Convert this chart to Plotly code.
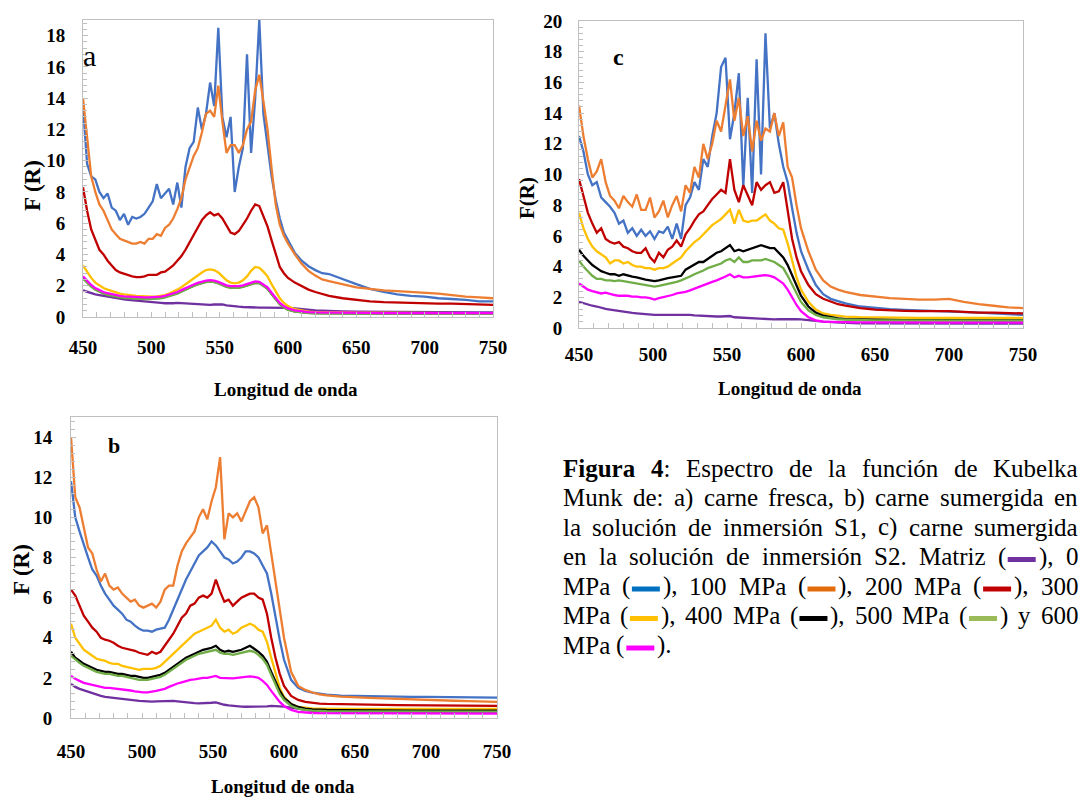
import re
import plotly.graph_objects as go

# ---------------- DATA ----------------
wl = [450, 453, 456, 459, 462, 465, 468, 471, 474, 477, 480, 483, 486, 489, 492, 495, 498,
      501, 504, 507, 510, 513, 516, 519, 522, 525, 528, 531, 534, 537, 540, 543, 546, 549,
      552, 555, 558, 561, 564, 567, 570, 573, 576, 579, 582, 585, 588, 591, 594, 597, 600,
      605, 610, 615, 620, 625, 630, 640, 650, 660, 670, 680, 690, 700, 710, 720, 730, 740, 750]

series_names = ["Matriz", "0 MPa", "100 MPa", "200 MPa", "300 MPa", "400 MPa", "500 MPa", "600 MPa"]

# panel a : carne fresca
a_matriz = [1.70,1.60,1.50,1.45,1.40,1.35,1.30,1.25,1.20,1.17,1.13,1.10,1.07,1.03,1.00,0.98,0.95,0.92,0.90,0.90,
            0.88,0.87,0.88,0.90,0.88,0.87,0.85,0.85,0.83,0.80,0.78,0.78,0.80,0.82,0.80,0.74,0.70,0.68,0.66,0.64,
            0.62,0.60,0.60,0.60,0.60,0.60,0.60,0.60,0.60,0.60,0.58,
            0.55,0.50,0.45,0.42,0.40,0.38,0.36,0.35,0.34,0.33,0.33,0.32,0.32,0.31,0.31,0.30,0.30,0.30]
a_0 = [13.5,9.8,9.0,8.8,8.0,7.6,7.9,7.0,6.8,6.2,6.6,5.9,6.4,6.3,6.4,6.6,7.0,7.4,8.5,7.6,
       7.9,8.2,7.2,8.6,7.0,9.6,10.8,11.2,13.4,12.0,13.0,15.0,13.5,18.5,12.8,11.5,12.8,8.0,9.6,10.8,
       16.8,10.5,14.0,19.0,13.0,11.0,9.0,7.5,6.3,5.4,4.9,
       4.1,3.6,3.25,3.0,2.8,2.75,2.4,2.1,1.8,1.6,1.45,1.35,1.3,1.2,1.15,1.1,1.0,1.0]
a_100 = [14.0,11.5,9.0,8.0,7.2,6.8,6.2,5.6,5.3,5.0,4.9,4.8,4.7,4.7,4.8,4.7,5.0,5.0,5.3,5.2,
         5.7,5.9,6.3,6.9,7.6,8.8,9.6,10.3,10.8,11.8,13.0,13.2,12.8,14.8,12.5,10.5,11.0,11.0,10.5,11.0,
         12.0,12.5,14.5,15.5,13.8,12.0,9.5,7.2,5.9,5.2,4.7,
         4.0,3.4,2.95,2.65,2.4,2.3,2.1,1.9,1.8,1.7,1.65,1.6,1.55,1.5,1.4,1.3,1.25,1.2]
a_200 = [8.3,6.8,5.6,4.9,4.3,4.0,3.6,3.3,3.0,2.85,2.75,2.65,2.6,2.55,2.55,2.6,2.7,2.7,2.7,2.85,
         2.9,3.1,3.3,3.6,3.9,4.3,4.8,5.3,5.8,6.2,6.5,6.7,6.5,6.6,6.3,5.8,5.4,5.3,5.5,5.9,
         6.3,6.8,7.2,7.1,6.5,5.8,4.9,4.0,3.2,2.8,2.5,
         2.2,1.95,1.75,1.6,1.45,1.35,1.2,1.1,1.0,0.95,0.92,0.9,0.88,0.86,0.85,0.83,0.8,0.78]
a_300 = [3.3,2.9,2.5,2.2,2.0,1.85,1.75,1.65,1.55,1.5,1.45,1.4,1.38,1.35,1.33,1.32,1.3,1.3,1.32,1.35,
         1.4,1.5,1.6,1.75,1.9,2.1,2.3,2.5,2.7,2.85,3.0,3.05,3.0,2.85,2.6,2.35,2.2,2.15,2.2,2.35,
         2.6,2.95,3.2,3.15,2.9,2.6,2.1,1.6,1.2,0.9,0.7,
         0.5,0.4,0.34,0.31,0.3,0.29,0.29,0.28,0.28,0.27,0.27,0.27,0.26,0.26,0.26,0.25,0.25,0.25]
a_400 = [2.5,2.22,1.98,1.78,1.63,1.53,1.45,1.38,1.33,1.28,1.25,1.23,1.21,1.2,1.19,1.18,1.18,1.19,1.21,1.23,
         1.28,1.35,1.43,1.53,1.65,1.78,1.9,2.01,2.11,2.2,2.26,2.29,2.26,2.18,2.05,1.95,1.9,1.88,1.9,1.95,
         2.03,2.13,2.2,2.18,2.03,1.82,1.47,1.12,0.83,0.63,0.48,
         0.36,0.3,0.27,0.25,0.24,0.24,0.23,0.23,0.23,0.22,0.22,0.22,0.22,0.22,0.22,0.22,0.22,0.22]
a_500 = [2.45,2.18,1.95,1.75,1.6,1.5,1.42,1.35,1.3,1.25,1.22,1.2,1.18,1.17,1.16,1.15,1.15,1.16,1.18,1.2,
         1.25,1.32,1.4,1.5,1.62,1.75,1.87,1.98,2.08,2.17,2.23,2.26,2.23,2.15,2.02,1.92,1.87,1.85,1.87,1.92,
         2.0,2.1,2.17,2.15,2.0,1.8,1.45,1.1,0.8,0.6,0.46,
         0.34,0.28,0.25,0.23,0.22,0.22,0.21,0.21,0.21,0.2,0.2,0.2,0.2,0.2,0.2,0.2,0.2,0.2]
a_600 = [2.6,2.3,2.05,1.85,1.7,1.6,1.52,1.45,1.4,1.35,1.32,1.3,1.28,1.27,1.26,1.25,1.25,1.26,1.28,1.3,
         1.35,1.42,1.5,1.6,1.72,1.85,1.97,2.08,2.18,2.27,2.33,2.36,2.33,2.25,2.12,2.02,1.97,1.95,1.97,2.02,
         2.1,2.2,2.28,2.25,2.1,1.9,1.55,1.2,0.9,0.7,0.55,
         0.42,0.35,0.31,0.29,0.28,0.27,0.26,0.26,0.26,0.25,0.25,0.25,0.25,0.25,0.25,0.25,0.25,0.25]

# panel b : carne sumergida en S1
b_matriz = [1.7,1.55,1.45,1.38,1.3,1.22,1.15,1.1,1.05,1.03,1.0,0.98,0.97,0.93,0.9,0.88,0.85,0.83,0.82,0.82,
            0.83,0.84,0.85,0.85,0.85,0.83,0.8,0.78,0.76,0.74,0.73,0.73,0.74,0.76,0.78,0.7,0.66,0.63,0.6,0.58,
            0.57,0.56,0.56,0.56,0.56,0.57,0.58,0.6,0.6,0.59,0.57,
            0.52,0.45,0.4,0.36,0.34,0.33,0.32,0.31,0.31,0.3,0.3,0.3,0.3,0.3,0.3,0.3,0.3,0.3]
b_0 = [11.8,10.0,9.3,8.6,8.0,7.4,7.1,6.6,6.2,5.9,5.6,5.4,5.2,4.9,4.8,4.6,4.45,4.35,4.35,4.3,
       4.4,4.45,4.5,4.9,5.4,5.9,6.4,6.9,7.3,7.7,8.1,8.3,8.5,8.8,8.6,8.3,8.0,7.9,7.7,7.8,
       8.0,8.3,8.3,8.2,8.0,7.6,7.2,6.2,5.0,3.9,2.9,
       1.9,1.5,1.35,1.27,1.2,1.16,1.12,1.1,1.08,1.07,1.06,1.05,1.05,1.05,1.04,1.03,1.02,1.02]
b_100 = [14.0,11.0,10.5,9.5,8.5,8.2,7.4,6.8,7.2,6.6,6.4,6.5,6.2,6.0,5.8,5.9,5.6,5.5,5.6,5.7,
         5.5,5.8,6.4,6.6,6.6,7.6,8.3,8.7,9.0,9.3,10.0,10.4,9.9,10.8,11.5,13.0,8.9,10.2,10.0,10.2,
         9.8,10.3,10.8,11.0,10.5,9.2,9.6,8.2,6.8,5.3,4.0,
         2.3,1.6,1.4,1.27,1.18,1.13,1.07,1.02,1.0,0.98,0.95,0.92,0.9,0.88,0.86,0.84,0.82,0.8]
b_200 = [6.4,6.1,5.6,5.1,4.8,4.5,4.3,4.0,3.9,3.85,3.75,3.6,3.5,3.45,3.4,3.35,3.25,3.2,3.15,3.3,
         3.2,3.3,3.6,3.9,4.2,4.6,5.0,5.2,5.6,5.7,6.0,6.1,6.0,6.2,6.9,6.3,5.8,5.9,5.6,5.8,
         6.0,6.1,6.2,6.2,6.0,5.9,5.2,4.0,3.0,2.2,1.6,
         1.1,0.9,0.8,0.75,0.72,0.7,0.68,0.67,0.66,0.65,0.64,0.63,0.63,0.62,0.62,0.61,0.6,0.6]
b_300 = [4.7,4.0,3.7,3.4,3.25,3.1,2.95,2.9,2.85,2.75,2.7,2.7,2.6,2.55,2.5,2.45,2.4,2.45,2.45,2.45,
         2.5,2.6,2.8,3.0,3.2,3.4,3.6,3.8,4.0,4.2,4.3,4.4,4.5,4.6,4.9,4.5,4.3,4.4,4.2,4.3,
         4.5,4.6,4.7,4.6,4.4,4.3,3.8,3.0,2.2,1.5,1.05,
         0.7,0.55,0.5,0.48,0.47,0.46,0.46,0.45,0.45,0.45,0.45,0.45,0.45,0.45,0.45,0.45,0.45,0.45]
b_400 = [3.3,3.0,2.85,2.7,2.6,2.5,2.4,2.35,2.3,2.3,2.25,2.2,2.2,2.15,2.1,2.1,2.05,2.0,2.0,2.05,
         2.1,2.15,2.25,2.4,2.55,2.7,2.85,3.0,3.1,3.2,3.3,3.4,3.45,3.5,3.6,3.4,3.3,3.35,3.3,3.35,
         3.4,3.5,3.6,3.45,3.3,3.1,2.8,2.3,1.8,1.35,1.0,
         0.7,0.55,0.47,0.43,0.41,0.4,0.39,0.38,0.38,0.38,0.37,0.37,0.37,0.37,0.37,0.37,0.37,0.37]
b_500 = [3.1,2.9,2.75,2.6,2.5,2.4,2.3,2.25,2.2,2.2,2.15,2.1,2.1,2.05,2.0,1.95,1.9,1.9,1.9,1.95,
         2.0,2.05,2.15,2.3,2.45,2.6,2.75,2.9,3.0,3.1,3.2,3.25,3.3,3.35,3.4,3.25,3.2,3.2,3.15,3.2,
         3.25,3.3,3.35,3.3,3.15,2.95,2.65,2.15,1.65,1.2,0.9,
         0.6,0.47,0.4,0.37,0.35,0.34,0.33,0.33,0.32,0.32,0.32,0.32,0.32,0.32,0.32,0.32,0.32,0.32]
b_600 = [2.1,1.95,1.85,1.75,1.7,1.65,1.6,1.55,1.5,1.5,1.48,1.45,1.42,1.4,1.37,1.33,1.3,1.28,1.28,1.3,
         1.35,1.4,1.45,1.55,1.65,1.72,1.78,1.85,1.9,1.93,1.97,2.0,2.0,2.05,2.1,2.0,1.98,1.97,1.97,2.0,
         2.03,2.05,2.07,2.05,2.0,1.85,1.65,1.35,1.05,0.8,0.6,
         0.4,0.3,0.26,0.25,0.24,0.24,0.23,0.23,0.23,0.23,0.22,0.22,0.22,0.22,0.22,0.22,0.22,0.22]

# panel c : carne sumergida en S2
c_matriz = [1.7,1.6,1.5,1.45,1.4,1.3,1.25,1.2,1.15,1.1,1.05,1.0,0.98,0.95,0.92,0.9,0.88,0.85,0.85,0.85,
            0.85,0.85,0.87,0.88,0.87,0.85,0.82,0.8,0.78,0.77,0.76,0.75,0.75,0.77,0.78,0.7,0.68,0.66,0.64,0.62,
            0.6,0.58,0.57,0.57,0.56,0.57,0.58,0.6,0.6,0.58,0.56,
            0.53,0.47,0.42,0.38,0.35,0.33,0.31,0.3,0.3,0.29,0.29,0.29,0.29,0.28,0.28,0.28,0.28,0.28]
c_0 = [12.5,11.5,10.0,9.3,9.5,8.5,8.2,7.9,7.5,6.8,7.0,6.2,6.5,6.0,6.4,6.0,6.3,5.8,6.3,6.2,
       6.6,5.8,6.8,5.8,8.0,8.5,9.5,9.0,11.0,10.5,12.5,14.0,17.0,17.6,12.3,14.0,16.6,9.2,15.0,8.8,
       17.5,10.0,19.2,13.0,14.0,12.0,10.5,9.5,7.8,6.2,5.0,
       3.8,2.8,2.2,1.9,1.75,1.6,1.4,1.3,1.22,1.18,1.15,1.12,1.1,1.05,1.0,0.95,0.9,0.85]
c_100 = [14.5,12.5,11.0,9.8,10.2,11.0,9.5,8.6,8.3,7.8,8.6,8.2,7.9,8.7,7.7,7.7,8.5,7.2,7.6,8.3,
         7.2,8.0,8.6,7.6,9.3,8.8,10.5,9.8,12.0,11.0,12.0,13.5,12.8,14.5,16.2,13.5,15.0,12.5,13.8,11.5,
         13.5,12.2,13.0,12.8,14.0,12.5,13.4,10.5,9.8,8.0,6.5,
         5.0,3.8,3.1,2.7,2.5,2.35,2.15,2.05,1.95,1.9,1.85,1.85,1.9,1.7,1.55,1.45,1.35,1.3]
c_200 = [9.7,8.5,7.5,6.8,6.2,6.5,5.8,5.6,5.5,5.6,5.3,5.2,5.0,4.9,4.9,5.2,4.6,4.3,4.9,4.6,
         5.1,5.3,5.7,5.3,6.1,6.5,7.0,7.4,7.6,8.0,8.4,8.7,9.0,8.8,11.0,9.0,8.2,9.3,8.6,8.0,
         9.5,9.0,9.3,9.5,8.8,8.9,9.5,7.5,5.8,4.6,3.7,
         2.8,2.2,1.9,1.7,1.55,1.45,1.3,1.2,1.15,1.12,1.1,1.1,1.1,1.05,1.0,1.0,0.98,0.95]
c_300 = [7.5,6.5,5.8,5.3,5.0,4.8,4.6,4.2,4.4,4.4,4.2,4.3,4.1,4.0,4.0,3.9,3.9,3.8,3.9,3.9,
         4.0,4.2,4.4,4.6,5.0,5.3,5.6,5.8,6.1,6.4,6.7,6.9,7.1,7.4,7.7,6.8,7.7,7.0,6.9,7.0,
         7.0,7.2,7.4,7.0,6.8,6.5,6.4,5.5,4.3,3.3,2.5,
         1.7,1.2,0.95,0.85,0.78,0.74,0.7,0.68,0.67,0.66,0.66,0.66,0.65,0.65,0.65,0.65,0.65,0.65]
c_400 = [5.1,4.7,4.4,4.1,3.9,3.7,3.6,3.5,3.5,3.4,3.5,3.4,3.35,3.3,3.2,3.15,3.1,3.05,3.1,3.2,
         3.25,3.3,3.35,3.4,3.8,3.95,4.1,4.3,4.3,4.5,4.7,4.9,5.0,5.2,5.4,5.0,5.1,5.0,5.1,5.2,
         5.3,5.4,5.3,5.2,5.2,4.9,4.6,4.1,3.4,2.7,2.1,
         1.4,1.0,0.8,0.7,0.62,0.58,0.55,0.53,0.52,0.51,0.51,0.5,0.5,0.5,0.5,0.5,0.5,0.5]
c_500 = [4.4,4.0,3.7,3.4,3.2,3.2,3.1,3.1,3.05,3.1,3.05,3.0,2.95,2.9,2.85,2.8,2.75,2.7,2.75,2.8,
         2.85,2.9,3.0,3.1,3.2,3.35,3.5,3.6,3.75,3.9,4.0,4.1,4.2,4.4,4.5,4.3,4.6,4.3,4.3,4.4,
         4.4,4.4,4.5,4.4,4.3,4.1,3.9,3.4,2.8,2.2,1.7,
         1.15,0.85,0.7,0.62,0.57,0.54,0.5,0.49,0.49,0.48,0.48,0.48,0.48,0.48,0.48,0.48,0.48,0.48]
c_600 = [2.9,2.7,2.5,2.4,2.3,2.25,2.3,2.2,2.15,2.1,2.1,2.1,2.05,2.05,2.0,2.0,1.95,1.85,1.95,2.0,
         2.05,2.15,2.25,2.3,2.35,2.45,2.55,2.65,2.8,2.9,3.0,3.1,3.2,3.35,3.5,3.3,3.4,3.3,3.3,3.35,
         3.4,3.45,3.45,3.4,3.3,3.1,2.9,2.5,2.0,1.5,1.1,
         0.7,0.5,0.42,0.4,0.38,0.37,0.36,0.36,0.35,0.35,0.35,0.35,0.35,0.35,0.35,0.35,0.35,0.35]

x_ticks = [450, 500, 550, 600, 650, 700, 750]

# ---------------- STYLE ----------------
PAGE_W, PAGE_H = 1089, 800
OFF = 8                      # default page margin of the html body
W, H = PAGE_W - OFF, PAGE_H - OFF
line_colors = ["#7030A0", "#4472C4", "#ED7D31", "#C00000", "#FFC000", "#000000", "#70AD47", "#FF00FF"]
AX_GRAY = "#BFBFBF"
SERIF = "Liberation Serif"


def X(p):
    return (p - OFF) / W


def Y(p):
    return 1 - (p - OFF) / H


fig = go.Figure()

panels = [
    dict(name="a", sfx="", data=[a_matriz, a_0, a_100, a_200, a_300, a_400, a_500, a_600],
         box=(83, 493, 20, 317), ymax=19, xstand=13, ystand=13),
    dict(name="c", sfx="2", data=[c_matriz, c_0, c_100, c_200, c_300, c_400, c_500, c_600],
         box=(579, 1023, 21, 328), ymax=20, xstand=9, ystand=12),
    dict(name="b", sfx="3", data=[b_matriz, b_0, b_100, b_200, b_300, b_400, b_500, b_600],
         box=(71, 497, 417, 718), ymax=15, xstand=16, ystand=14),
]

tickfont = dict(family=SERIF, size=19, color="black", weight="bold")
layout_axes = {}
for p in panels:
    for vals in p["data"]:
        assert len(vals) == len(wl), (p["name"], len(vals))
    for vals, col, nm in zip(p["data"], line_colors, series_names):
        fig.add_trace(go.Scatter(x=wl, y=vals, mode="lines", name=nm,
                                 line=dict(color=col, width=2.3),
                                 xaxis="x" + p["sfx"], yaxis="y" + p["sfx"],
                                 showlegend=False, hoverinfo="skip"))
    l, r, t, b = p["box"]
    layout_axes["xaxis" + p["sfx"]] = dict(
        domain=[X(l), X(r)], range=[450, 750], anchor="y" + p["sfx"], automargin=False,
        tickvals=x_ticks, showline=True, mirror=True, linecolor=AX_GRAY, linewidth=1,
        ticks="inside", ticklen=5, tickcolor=AX_GRAY,
        minor=dict(dtick=10, ticks="inside", ticklen=5, tickcolor=AX_GRAY, showgrid=False),
        showgrid=False, zeroline=False, tickfont=tickfont, ticklabelstandoff=p["xstand"],
        fixedrange=True)
    layout_axes["yaxis" + p["sfx"]] = dict(
        domain=[Y(b), Y(t)], range=[0, p["ymax"]], anchor="x" + p["sfx"], automargin=False,
        dtick=2, tick0=0, showline=True, mirror=True, linecolor=AX_GRAY, linewidth=1,
        ticks="inside", ticklen=5, tickcolor=AX_GRAY,
        minor=dict(dtick=0.4, ticks="inside", ticklen=4, tickcolor=AX_GRAY, showgrid=False),
        showgrid=False, zeroline=False, tickfont=tickfont, ticklabelstandoff=p["ystand"],
        fixedrange=True)

annotations = []


def add_text(txt, x, y, size, bold=True, angle=0, xanchor="center", family=SERIF):
    annotations.append(dict(text=txt, x=X(x), y=Y(y), xref="paper", yref="paper",
                            xanchor=xanchor, yanchor="middle", showarrow=False, textangle=angle,
                            borderpad=0,
                            font=dict(family=family, size=size, color="black",
                                      weight="bold" if bold else "normal")))


# axis titles and panel letters
add_text("Longitud de onda", 286, 389, 19)
add_text("F (R)", 33, 186, 23, angle=-90)
add_text("a", 89, 56, 30, bold=False)

add_text("Longitud de onda", 790, 388, 19)
add_text("F(R)", 527, 198, 21, angle=-90)
add_text("c", 618, 57, 24)

add_text("Longitud de onda", 283, 786, 19)
add_text("F (R)", 21, 570, 23, angle=-90)
add_text("b", 114, 446, 22)

# ---------------- CAPTION (justified) ----------------
S = 25.0
CAP_X0, CAP_X1 = 562, 1077
cap_y = [468, 497.5, 527, 556.5, 586, 615.5, 645]
caption_lines = [
    ["<b>Figura</b>", "<b>4</b>:", "Espectro", "de", "la", "función", "de", "Kubelka"],
    ["Munk", "de:", "a)", "carne", "fresca,", "b)", "carne", "sumergida", "en"],
    ["la", "solución", "de", "inmersión", "S1,", "c)", "carne", "sumergida"],
    ["en", "la", "solución", "de", "inmersión", "S2.", "Matriz", "(#7030A0),", "0"],
    ["MPa", "(#0070C0),", "100", "MPa", "(#E36C0A),", "200", "MPa", "(#C00000),", "300"],
    ["MPa", "(#FFC000),", "400", "MPa", "(#000000),", "500", "MPa", "(#9BBB59)", "y", "600"],
    ["MPa", "(#FF00FF)."],
]

REG = {' ': 250, 'a': 444, 'b': 500, 'c': 444, 'd': 500, 'e': 444, 'f': 333, 'g': 500, 'h': 500,
       'i': 278, 'j': 278, 'k': 500, 'l': 278, 'm': 778, 'n': 500, 'o': 500, 'p': 500, 'q': 500,
       'r': 333, 's': 389, 't': 278, 'u': 500, 'v': 500, 'w': 722, 'x': 500, 'y': 500, 'z': 444,
       'E': 611, 'K': 722, 'M': 889, 'P': 556, 'S': 556, 'F': 556,
       '(': 333, ')': 333, ',': 250, '.': 250, ':': 278, 'ó': 500, 'é': 444, 'í': 278}
BOLD = {'F': 611, 'i': 278, 'g': 500, 'u': 556, 'r': 444, 'a': 500}
SW = 1.3  # swatch width in em


def text_w(s, bold=False):
    tab = BOLD if bold else REG
    return sum(tab.get(ch, 500) for ch in s) / 1000.0 * S


def token_w(tok):
    m = re.match(r"^(.*)\((#[0-9A-Fa-f]{6})\)(.*)$", tok)
    if m:
        return text_w(m.group(1) + "(") + SW * S + text_w(")" + m.group(3))
    w = 0
    for part in re.split(r"(<b>.*?</b>)", tok):
        if part.startswith("<b>"):
            w += text_w(part[3:-4], True)
        else:
            w += text_w(part)
    return w


shapes = []
for li, (words, yc) in enumerate(zip(caption_lines, cap_y)):
    widths = [token_w(t) for t in words]
    last = li == len(caption_lines) - 1
    if last or len(words) == 1:
        gap = text_w(" ")
    else:
        gap = (CAP_X1 - CAP_X0 - sum(widths)) / (len(words) - 1)
    x = CAP_X0
    for tok, w in zip(words, widths):
        m = re.match(r"^(.*)\((#[0-9A-Fa-f]{6})\)(.*)$", tok)
        if m:
            pre, col, post = m.group(1) + "(", m.group(2), ")" + m.group(3)
            add_text(pre, x, yc, S, bold=False, xanchor="left")
            bx = x + text_w(pre)
            shapes.append(dict(type="line", xref="paper", yref="paper",
                               x0=X(bx + 0.1 * S), x1=X(bx + (SW - 0.08) * S),
                               y0=Y(yc + 3), y1=Y(yc + 3),
                               line=dict(color=col, width=5)))
            add_text(post, bx + SW * S, yc, S, bold=False, xanchor="left")
        else:
            add_text(tok, x, yc, S, bold=False, xanchor="left")
        x += w + gap

fig.update_layout(
    width=W, height=H, margin=dict(l=0, r=0, t=0, b=0, autoexpand=False),
    paper_bgcolor="white", plot_bgcolor="white", showlegend=False,
    annotations=annotations, shapes=shapes, **layout_axes)

fig.write_html("out.html")
